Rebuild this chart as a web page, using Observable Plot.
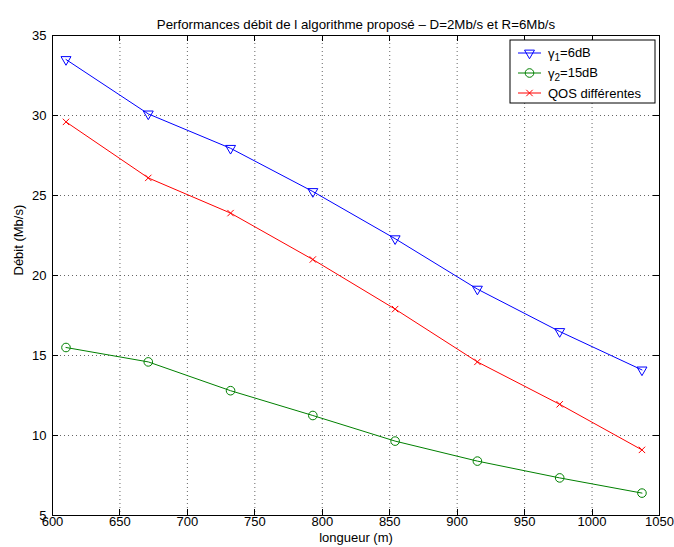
<!DOCTYPE html>
<html><head><meta charset="utf-8">
<script src="https://cdn.jsdelivr.net/npm/d3@7"></script>
<script src="https://cdn.jsdelivr.net/npm/@observablehq/plot@0.6"></script>
<style>body{margin:0;background:#fff}</style>
</head><body><div id="chart"></div>
<script>
// ---- data ----
const longueur = [610, 671, 732, 793, 854, 915, 976, 1037];
const gamma1 = [33.5, 30.1, 27.95, 25.25, 22.3, 19.15, 16.5, 14.1];
const gamma2 = [15.5, 14.6, 12.8, 11.25, 9.65, 8.4, 7.35, 6.4];
const qos = [29.6, 26.1, 23.9, 21.0, 17.9, 14.6, 11.95, 9.1];
const seriesNames = ["γ1=6dB", "γ2=15dB", "QOS différentes"];
const legendParts = [["γ", "1", "=6dB"], ["γ", "2", "=15dB"], ["QOS différentes", "", ""]];
const seriesColors = ["#0000ff", "#008000", "#ff0000"];
const seriesSymbols = ["triangle", "circle", "times"];
const xTicks = [600, 650, 700, 750, 800, 850, 900, 950, 1000, 1050];
const yTicks = [5, 10, 15, 20, 25, 30, 35];
const titleText = "Performances débit de l algorithme proposé – D=2Mb/s et R=6Mb/s";
const xLabel = "longueur (m)";
const yLabel = "Débit (Mb/s)";

const seriesValues = [gamma1, gamma2, qos];
const data = seriesValues.flatMap((vals, s) => vals.map((v, i) => ({x: longueur[i], y: v, series: seriesNames[s]})));

const symbolStyle = {
  triangle: {r: 3.7, rotate: 180},
  circle: {r: 4.3, rotate: 0},
  times: {r: 3, rotate: 0}
};

function innerTicks(index, scales, values, dims) {
  const {x, y} = scales;
  const L = dims.marginLeft, R = dims.width - dims.marginRight;
  const T = dims.marginTop, B = dims.height - dims.marginBottom;
  const g = d3.create("svg:g").attr("stroke", "black").attr("stroke-width", 1);
  for (const t of xTicks) {
    const px = Math.round(x(t)) + 0.5;
    g.append("line").attr("x1", px).attr("x2", px).attr("y1", B).attr("y2", B - 6);
    g.append("line").attr("x1", px).attr("x2", px).attr("y1", T).attr("y2", T + 6);
  }
  for (const t of yTicks) {
    const py = Math.round(y(t)) + 0.5;
    g.append("line").attr("y1", py).attr("y2", py).attr("x1", L).attr("x2", L + 6);
    g.append("line").attr("y1", py).attr("y2", py).attr("x1", R).attr("x2", R - 6);
  }
  return g.node();
}

function legend(index, scales, values, dims) {
  const R = dims.width - dims.marginRight, T = dims.marginTop;
  const bw = 145, bh = 63;
  const bx = R - 4 - bw, by = T + 5;
  const g = d3.create("svg:g");
  g.append("rect").attr("x", bx).attr("y", by).attr("width", bw).attr("height", bh)
    .attr("fill", "white").attr("stroke", "black").attr("stroke-width", 1);
  seriesNames.forEach((name, i) => {
    const cy = by + 13 + i * 20;
    const color = seriesColors[i];
    g.append("line").attr("x1", bx + 8).attr("x2", bx + 31).attr("y1", cy).attr("y2", cy)
      .attr("stroke", color).attr("stroke-width", 1);
    const st = symbolStyle[seriesSymbols[i]];
    const sym = {triangle: d3.symbolTriangle, circle: d3.symbolCircle, times: d3.symbolTimes}[seriesSymbols[i]];
    g.append("path").attr("d", d3.symbol(sym, Math.PI * st.r * st.r)())
      .attr("transform", `translate(${bx + 19.5},${cy}) rotate(${st.rotate})`)
      .attr("fill", "none").attr("stroke", color).attr("stroke-width", 1);
    const [a, sub, rest] = legendParts[i];
    const t = g.append("text").attr("x", bx + 38).attr("y", cy).attr("dy", "0.35em")
      .attr("text-anchor", "start").attr("font-size", 13).attr("fill", "black");
    t.append("tspan").text(a);
    if (sub) {
      t.append("tspan").attr("dy", "0.3em").attr("font-size", 10).text(sub);
      t.append("tspan").attr("dy", "-0.3em").text(rest);
    }
  });
  return g.node();
}

const marks = [
  Plot.ruleX(xTicks, {stroke: "#666", strokeDasharray: "1,3", strokeWidth: 1}),
  Plot.ruleY(yTicks, {stroke: "#666", strokeDasharray: "1,3", strokeWidth: 1}),
  Plot.line(data, {x: "x", y: "y", z: "series", stroke: "series", strokeWidth: 1}),
  ...seriesNames.map((name, i) => Plot.dot(data.filter(d => d.series === name), {
    x: "x", y: "y", symbol: seriesSymbols[i], r: symbolStyle[seriesSymbols[i]].r,
    rotate: symbolStyle[seriesSymbols[i]].rotate, stroke: seriesColors[i], fill: "none", strokeWidth: 1
  })),
  Plot.frame({stroke: "black", strokeWidth: 1}),
  innerTicks,
  Plot.axisX({ticks: xTicks, tickSize: 0, tickPadding: 1, label: null, fontSize: 13, tickFormat: d => String(d)}),
  Plot.axisY({ticks: yTicks, tickSize: 0, tickPadding: 6, label: null, fontSize: 13, tickFormat: d => String(d)}),
  Plot.text([xLabel], {frameAnchor: "bottom", dy: 26, fontSize: 13, text: d => d}),
  Plot.text([yLabel], {frameAnchor: "left", dx: -34, rotate: -90, fontSize: 13, text: d => d}),
  Plot.text([titleText], {frameAnchor: "top", dy: -16, fontSize: 13.3, text: d => d}),
  legend
];

const chart = Plot.plot({
  width: 674,
  height: 547,
  marginLeft: 52,
  marginRight: 15,
  marginTop: 35,
  marginBottom: 32,
  style: {fontFamily: "'Liberation Sans', Arial, Helvetica, sans-serif", color: "black", background: "white", overflow: "visible"},
  x: {domain: [600, 1050]},
  y: {domain: [5, 35]},
  color: {domain: seriesNames, range: seriesColors},
  marks
});
document.getElementById("chart").appendChild(chart);
</script>
</body></html>
